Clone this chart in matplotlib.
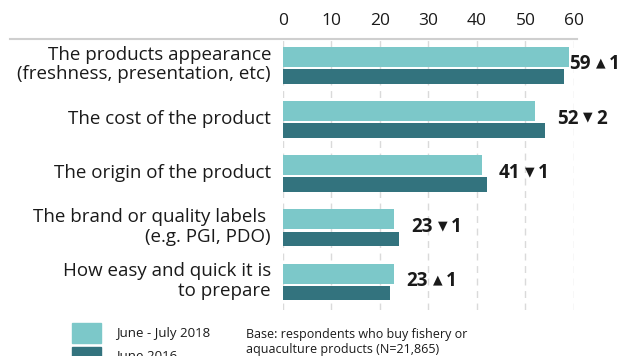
import matplotlib
matplotlib.use("Agg")
import matplotlib.pyplot as plt
from matplotlib.lines import Line2D
from matplotlib.patches import Rectangle

# ---- data ----
categories = [
    "The products appearance\n(freshness, presentation, etc)",
    "The cost of the product",
    "The origin of the product",
    "The brand or quality labels \n(e.g. PGI, PDO)",
    "How easy and quick it is\nto prepare",
]
values_2018 = [59, 52, 41, 23, 23]
values_2016 = [58, 54, 42, 24, 22]
changes = [1, -2, -1, -1, 1]
ticks = [0, 10, 20, 30, 40, 50, 60]

LIGHT = "#7cc8c9"
DARK = "#33737e"
TEXT = "#1a1a1a"
FONT = ["Open Sans", "DejaVu Sans"]

plt.rcParams["font.family"] = FONT

fig = plt.figure(figsize=(6.23, 3.56), dpi=100)
W, H = 623, 356
ax = fig.add_axes([282.7 / W, 1 - 310 / H, 291.3 / W, 271 / H])

n = len(categories)
for i in range(n):
    ax.barh(i + 0.327, values_2018[i], height=0.369, color=LIGHT, zorder=2)
    ax.barh(i + 0.689, values_2016[i], height=0.271, color=DARK, zorder=2)

    # value label, then a small triangle and the change since 2016
    end = min(max(values_2018[i], values_2016[i]) + 2.5, 59.0)
    t1 = ax.text(end, i + 0.47, f"{values_2018[i]}", ha="left",
                 va="center", fontsize=13.5, fontweight="bold", color=TEXT,
                 clip_on=False)
    arrow = "\u25b2" if changes[i] > 0 else "\u25bc"
    t2 = ax.annotate(arrow, xy=(1, 0.5), xycoords=t1, xytext=(3.5, 1),
                     textcoords="offset points", ha="left", va="center",
                     fontsize=9, color=TEXT, family="DejaVu Sans")
    ax.annotate(f"{abs(changes[i])}", xy=(1, 0.5), xycoords=t2,
                xytext=(2.5, -1), textcoords="offset points", ha="left",
                va="center", fontsize=13.5, fontweight="bold", color=TEXT)

    ax.text(-2.4, i + 0.47, categories[i], ha="right", va="center",
            fontsize=13.5, color=TEXT, linespacing=1.12, clip_on=False)

ax.set_xlim(0, 60)
ax.set_ylim(5, 0)
ax.set_xticks(ticks)
ax.set_yticks([])
ax.xaxis.tick_top()
ax.tick_params(axis="x", length=0, pad=7, labelsize=12.5, labelcolor=TEXT)
for s in ax.spines.values():
    s.set_visible(False)
ax.grid(axis="x", color="#dadada", linestyle=(0, (5, 4)), linewidth=1, zorder=0)

# top rule under the tick labels
fig.add_artist(Line2D([10 / W, 577 / W], [1 - 39 / H, 1 - 39 / H],
                      color="#cfcfcf", linewidth=1.5))

# legend
fig.add_artist(Rectangle((72 / W, 1 - 343 / H), 29 / W, 20 / H, color=LIGHT))
fig.add_artist(Rectangle((72 / W, 1 - 367 / H), 29 / W, 20 / H, color=DARK))
fig.text(116 / W, 1 - 333 / H, "June - July 2018", ha="left", va="center",
         fontsize=9.5, color=TEXT)
fig.text(116 / W, 1 - 356 / H, "June 2016", ha="left", va="center",
         fontsize=9.5, color=TEXT)
fig.text(246 / W, 1 - 342 / H,
         "Base: respondents who buy fishery or\naquaculture products (N=21,865)",
         ha="left", va="center", fontsize=9, color=TEXT, linespacing=1.25)

fig.savefig("out.png", dpi=100)
